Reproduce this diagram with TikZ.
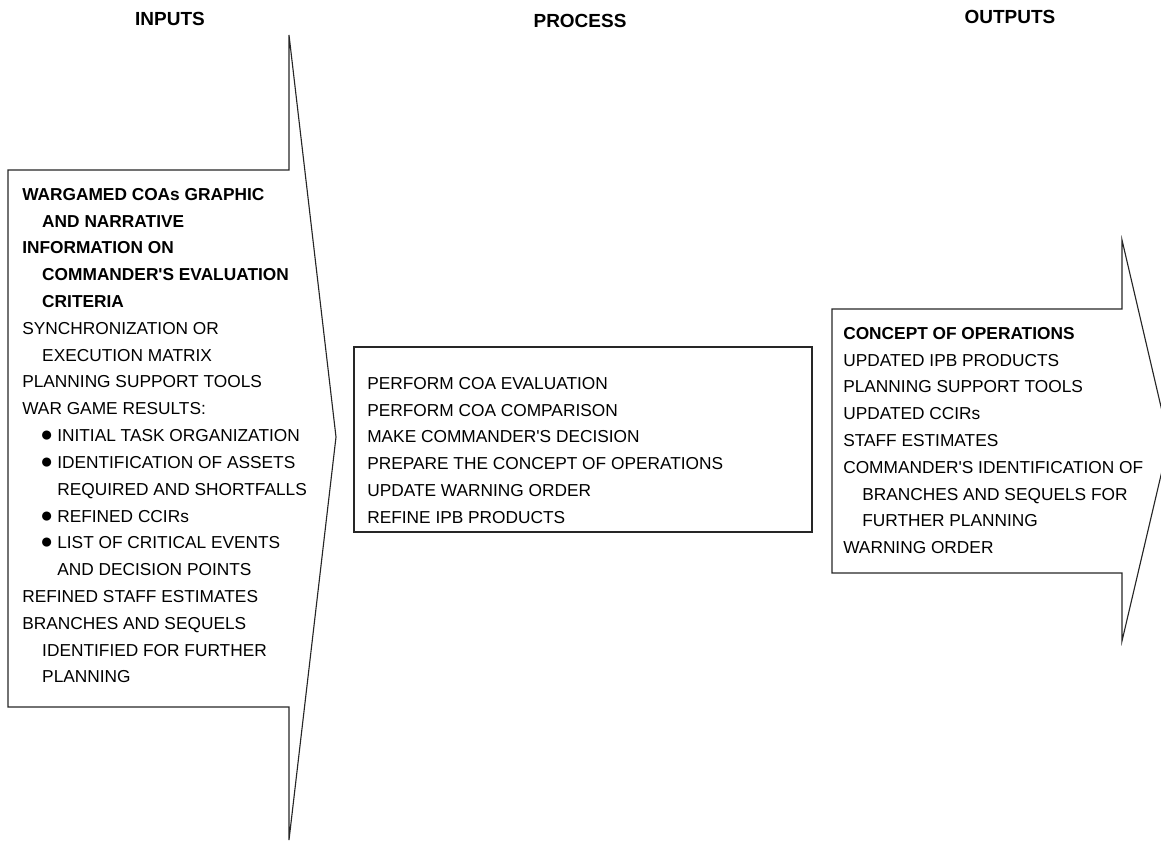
\documentclass[tikz,border=0pt]{standalone}
\usepackage{fontspec}
\setmainfont{Liberation Sans}
\newcommand{\listdot}{\makebox[12.1pt][l]{\fontsize{15}{15}\selectfont ●}}
\begin{document}
\begin{tikzpicture}[x=0.025cm, y=-0.025cm,  % 以像素为单位, y 向下
    outline/.style={draw=black!85, line width=0.8pt, line join=miter},
    listtxt/.style={anchor=north west, inner sep=0pt, align=left, font=\fontsize{12.3}{19.06}\selectfont},
    header/.style={inner sep=0pt, font=\fontsize{13.5}{16}\selectfont\bfseries}]

    % 固定画布大小
    \useasboundingbox (0,0) rectangle (1161,844);
    \clip (0,0) rectangle (1161,844);

    % 绘制输入箭头
    \draw[outline] (8,170) -- (289,170) -- (289,35) -- (336,437) -- (289,840) -- (289,707) -- (8,707) -- cycle;

    % 绘制处理框
    \draw[outline] (354,347) rectangle (812,532);

    % 绘制输出箭头, 箭头尖超出画布
    \draw[outline] (832,309) -- (1122,309) -- (1122,240) -- (1169,441) -- (1122,641) -- (1122,573) -- (832,573) -- cycle;

    % 标题
    \node[header] (inputsTitle) at (170,19) {INPUTS};
    \node[header] (processTitle) at (580,21) {PROCESS};
    \node[header] (outputsTitle) at (1010,17) {OUTPUTS};

    % 输入列表
    \node[listtxt] (inputsList) at (22,188) {%
        \textbf{WARGAMED COAs GRAPHIC}\\
        \hspace*{14.2pt}\textbf{AND NARRATIVE}\\
        \textbf{INFORMATION ON}\\
        \hspace*{14.2pt}\textbf{COMMANDER\textquotesingle S EVALUATION}\\
        \hspace*{14.2pt}\textbf{CRITERIA}\\
        SYNCHRONIZATION OR\\
        \hspace*{14.2pt}EXECUTION MATRIX\\
        PLANNING SUPPORT TOOLS\\
        WAR GAME RESULTS:\\
        \hspace*{12.8pt}\listdot INITIAL TASK ORGANIZATION\\
        \hspace*{12.8pt}\listdot IDENTIFICATION OF ASSETS\\
        \hspace*{24.9pt}REQUIRED AND SHORTFALLS\\
        \hspace*{12.8pt}\listdot REFINED CCIRs\\
        \hspace*{12.8pt}\listdot LIST OF CRITICAL EVENTS\\
        \hspace*{24.9pt}AND DECISION POINTS\\
        REFINED STAFF ESTIMATES\\
        BRANCHES AND SEQUELS\\
        \hspace*{14.2pt}IDENTIFIED FOR FURTHER\\
        \hspace*{14.2pt}PLANNING};

    % 处理步骤
    \node[listtxt] (processList) at (367,377) {%
        PERFORM COA EVALUATION\\
        PERFORM COA COMPARISON\\
        MAKE COMMANDER\textquotesingle S DECISION\\
        PREPARE THE CONCEPT OF OPERATIONS\\
        UPDATE WARNING ORDER\\
        REFINE IPB PRODUCTS};

    % 输出列表
    \node[listtxt] (outputsList) at (843,327) {%
        \textbf{CONCEPT OF OPERATIONS}\\
        UPDATED IPB PRODUCTS\\
        PLANNING SUPPORT TOOLS\\
        UPDATED CCIRs\\
        STAFF ESTIMATES\\
        COMMANDER\textquotesingle S IDENTIFICATION OF\\
        \hspace*{13.5pt}BRANCHES AND SEQUELS FOR\\
        \hspace*{13.5pt}FURTHER PLANNING\\
        WARNING ORDER};

\end{tikzpicture}
\end{document}
